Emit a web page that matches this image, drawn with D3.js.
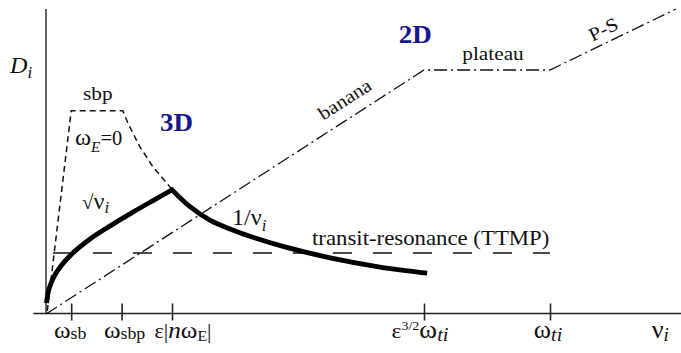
<!DOCTYPE html>
<html>
<head>
<meta charset="utf-8">
<script src="https://cdn.jsdelivr.net/npm/d3@7"></script>
<style>
body { margin: 0; background: #fff; }
text { font-family: "Liberation Serif", "Times New Roman", "DejaVu Serif", serif; fill: #111; }
</style>
</head>
<body>
<div id="chart"></div>
<script>
// schematic ion diffusion regimes vs collisionality (arbitrary units)
var tickVals = [0.4, 1.2, 2.0, 6.0, 8.0];
var nuLabelX = 9.75;

// 2D tokamak: banana -> plateau -> Pfirsch-Schlueter
var twoD = [[0, 0], [6, 8], [8, 8], [10, 10]];
// superbanana-plateau, omega_E = 0
var sbp = [[0.02, 0.1], [0.4, 6.66], [1.22, 6.66], [1.3, 6.26], [1.49, 5.48], [1.7, 4.82], [1.97, 4.16], [2.0, 4.07]];
// sqrt(nu) branch
var sqrtNu = [[0.008, 0.36], [0.032, 0.69], [0.063, 0.92], [0.14, 1.28], [0.25, 1.61], [0.41, 1.97], [0.7, 2.46], [1.02, 2.89], [1.38, 3.34], [1.7, 3.72], [2.0, 4.07]];
// 1/nu branch
var invNu = [[2.0, 4.07], [2.29, 3.51], [2.6, 3.08], [2.92, 2.79], [3.32, 2.49], [3.79, 2.2], [4.51, 1.84], [5.3, 1.54], [6.05, 1.34]];
// transit-resonance (TTMP) level
var ttmp = [[0.11, 2.0], [8.0, 2.0]];

var W = 681, H = 353;
var svg = d3.select("#chart").append("svg")
    .attr("width", W).attr("height", H);

var x = d3.scaleLinear().domain([0, 10]).range([46, 676]);
var y = d3.scaleLinear().domain([0, 10]).range([314, 9]);

var line = d3.line().x(function(d) { return x(d[0]); }).y(function(d) { return y(d[1]); });
var smooth = d3.line().curve(d3.curveCatmullRom.alpha(0.5))
    .x(function(d) { return x(d[0]); }).y(function(d) { return y(d[1]); });

// axes
svg.append("line").attr("x1", x(0)).attr("x2", x(0)).attr("y1", y(10)).attr("y2", y(0))
    .attr("stroke", "#222").attr("stroke-width", 1.4);
svg.append("line").attr("x1", x(-0.2)).attr("x2", W).attr("y1", y(0) - 0.5).attr("y2", y(0) - 0.5)
    .attr("stroke", "#222").attr("stroke-width", 1.4);

var xAxis = d3.axisBottom(x).tickValues(tickVals).tickSizeInner(7).tickSizeOuter(0).tickFormat("");
var ax = svg.append("g").attr("transform", "translate(0," + (y(0) - 0.5) + ")").call(xAxis);
ax.select(".domain").remove();
ax.selectAll(".tick line").attr("y1", -10).attr("stroke", "#222").attr("stroke-width", 1.6);

// curves
svg.append("path").attr("d", line(twoD)).attr("fill", "none")
    .attr("stroke", "#111").attr("stroke-width", 1.3).attr("stroke-dasharray", "13,4,2,4");
svg.append("path").attr("d", line(sbp)).attr("fill", "none")
    .attr("stroke", "#111").attr("stroke-width", 1.5).attr("stroke-dasharray", "6,4");
svg.append("path").attr("d", line(ttmp)).attr("fill", "none")
    .attr("stroke", "#111").attr("stroke-width", 1.6).attr("stroke-dasharray", "19,21");
// one path so the peak gets a sharp join
svg.append("path").attr("d", smooth(sqrtNu) + smooth(invNu).replace(/^M/, "L"))
    .attr("fill", "none").attr("stroke", "#000").attr("stroke-width", 4.8)
    .attr("stroke-linejoin", "miter");

// rich text helper: parts = [text, size, baseline offset, italic]
function rich(px, py, parts, anchor, sx, rot) {
  var g = svg.append("g").attr("transform",
      "translate(" + px + "," + py + ")" + (rot ? " rotate(" + rot + ")" : "") + " scale(" + (sx || 1.12) + ",1)");
  var t = g.append("text").attr("text-anchor", anchor || "start")
      .attr("font-family", "'Liberation Serif', 'Times New Roman', serif");
  var shift = 0;
  parts.forEach(function(p) {
    var s = t.append("tspan").text(p[0]).attr("font-size", p[1]);
    var off = p[2] || 0;
    if (off - shift) s.attr("dy", off - shift);
    shift = off;
    if (p[3]) s.attr("font-style", "italic");
  });
  return t;
}

// tick labels
var tl = y(0) + 24;
rich(x(0.4) - 1, tl, [["ω", 24], ["sb", 17, 1]], "middle", 1.05);
rich(x(1.2) + 3, tl, [["ω", 24], ["sbp", 17, 1]], "middle", 1.05);
rich(x(2.0) + 11, tl, [["ε|", 21], ["n", 24, 0, 1], ["ω", 24], ["E", 15, 3], ["|", 21, 0]], "middle", 1.05);
rich(x(6.0) - 4, tl, [["ε", 22], ["3/2", 13, -8], ["ω", 25, 0], ["ti", 19, 3, 1]], "middle", 1.08);
rich(x(8.0) - 2, tl, [["ω", 25], ["ti", 19, 3, 1]], "middle", 1.05);
rich(x(nuLabelX), tl, [["ν", 25], ["i", 18, 3, 1]], "middle", 1.05);

// axis label
rich(10, 73, [["D", 23, 0, 1], ["i", 16, 5, 1]], "start", 1.05);

// region labels
rich(83, 100, [["sbp", 19]]);
rich(75, 145, [["ω", 24], ["E", 15, 7, 1], ["=0", 20, 0]], "start", 1.02);
rich(x(2.0) - 12, y(6.0), [["3D", 25]], "start", 1.08).attr("font-weight", "bold").selectAll("tspan").style("fill", "#16168e");
rich(x(5.6), y(8.9), [["2D", 25]], "start", 1.08).attr("font-weight", "bold").selectAll("tspan").style("fill", "#16168e");

var a1 = Math.atan2(y(8) - y(0), x(6) - x(0)) * 180 / Math.PI;
var a2 = Math.atan2(y(10) - y(8), x(10) - x(8)) * 180 / Math.PI;
rich(x(4.9), y(4.9 * 8 / 6), [["banana", 19]], "middle", 1.1, a1).attr("y", -12);
rich(x(8.94), y(8.94), [["P-S", 19]], "middle", 1.1, a2).attr("y", -7);
rich(493, 60, [["plateau", 19]], "middle", 1.12);

rich(82, 209, [["√", 20], ["ν", 23], ["i", 16, 4, 1]], "start", 1.05);
rich(232, 225, [["1/ν", 23], ["i", 16, 6, 1]], "start", 1.05);
rich(312, 245, [["transit-resonance (TTMP)", 20]], "start", 1.14);
</script>
</body>
</html>
